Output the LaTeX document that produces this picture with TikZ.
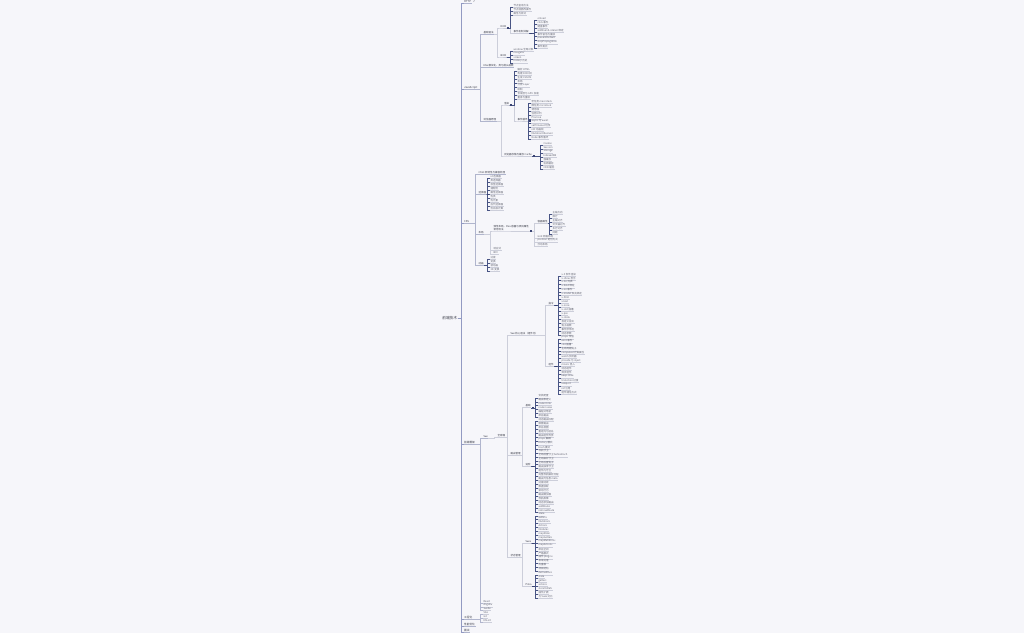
\documentclass[tikz,border=0pt]{standalone}
\usepackage{fontspec}
\setmainfont{Noto Sans CJK SC}
\newfontfamily\symfont{DejaVu Sans}
\usetikzlibrary{calc}

\definecolor{bgcol}{RGB}{246,246,250}
\definecolor{maincol}{RGB}{146,154,194}
\definecolor{subcol}{RGB}{176,181,205}
\definecolor{linkcol}{RGB}{204,206,218}
\definecolor{leafcol}{RGB}{72,84,132}
\definecolor{knobcol}{RGB}{58,68,115}
\definecolor{textcol}{RGB}{100,102,114}
\definecolor{darktext}{RGB}{58,60,72}

\tikzset{
  rootnode/.style={anchor=west, inner sep=0.6pt, text=darktext, font=\fontsize{3.7}{4.2}\selectfont},
  lvlone/.style={anchor=south west, inner xsep=0.4pt, inner ysep=0.5pt, text=darktext, font=\fontsize{2.7}{3.2}\selectfont},
  topic/.style={anchor=south west, inner xsep=0.4pt, inner ysep=0.5pt, text=darktext, font=\fontsize{2.5}{3}\selectfont},
  leaf/.style={topic, text=textcol},
  mainlink/.style={draw=maincol, line width=0.9pt},
  sublink/.style={draw=subcol, line width=0.5pt},
  link/.style={draw=linkcol, line width=0.45pt},
  leaflink/.style={draw=leafcol, line width=0.4pt},
  uline/.style={draw=linkcol, line width=0.4pt},
}

% parent -> child, elbow at child x minus gap
\newcommand\branch[4]{\draw[#1] (#3.south east) -| ([xshift=-#2pt]#4.south west) -- (#4.south west) -- (#4.south east);}
% a column of leaves under one parent
\newcommand\leafs[7][leaflink]{%
  \foreach \lbl [count=\i] in {#7} {%
    \node[leaf] (#3-\i) at (#4,{#5+#6*(\i-1)}) {\lbl};
    \draw[#1] (#2.south east) -| ([xshift=-2.5pt]#3-\i.south west) -- (#3-\i.south west);
    \draw[uline] (#3-\i.south west) -- (#3-\i.south east);
  }%
}
\newcommand\knob[1]{\fill[knobcol] ([xshift=0.3pt,yshift=-0.55pt]#1.south east) rectangle ++(2.2pt,1.1pt);}

\begin{document}
\begin{tikzpicture}[x=1pt,y=-1pt]
  %%%%% START %%%%%
  \fill[bgcol] (0,0) rectangle (1024,633);
  \useasboundingbox (0,0) rectangle (1024,633);

  \node[rootnode] (root) at (441.5,318) {前端技术};

  \foreach \nm/\yy/\lbl in {http/3.5/HTTP, js/89.5/JavaScript, css/223.5/CSS, fw/444.5/前端框架, eng/619.5/工程化, perf/626.5/性能优化, iv/632.3/面试} {
    \node[lvlone] (\nm) at (463.5,\yy) {\lbl};
    \draw[mainlink] (root.east) -| ([xshift=-2.5pt]\nm.south west) -- (\nm.south west);
    \draw[sublink] (\nm.south west) -- (\nm.south east);
  }
  \node[anchor=west, inner sep=0pt, text=darktext, font=\fontsize{2.6}{2.6}\symfont] (httpicon) at ([xshift=1pt]http.east) {↗};

  % JavaScript
  \node[topic] (js1) at (483,34.5) {基础语法};
  \node[topic] (js2) at (483,67.5) {ES6 模块化、类与箭头函数};
  \node[topic] (js3) at (483,121.5) {浏览器原理};
  \foreach \c in {js1,js2,js3} {\branch{sublink}{2.5}{js}{\c}}

  \node[topic] (jsdom) at (500,28) {DOM};
  \node[topic] (jsbom) at (500,57) {BOM};
  \branch{link}{2.5}{js1}{jsdom}
  \branch{link}{2.5}{js1}{jsbom}
  \node[topic] (jsevt) at (513,33.5) {事件机制详解};
  \branch{link}{2.5}{jsdom}{jsevt}
  \leafs{jsdom}{jsdomA}{513}{7}{4}{节点查询方法, 节点增删改操作, 属性与样式}
  \knob{jsdom}
  \leafs{jsevt}{jsevt}{537}{20}{4}{onload, click 事件, 键盘事件, addEventListener 绑定, 事件冒泡与捕获, preventDefault, stopPropagation, 事件委托}
  \knob{jsevt}
  \leafs{jsbom}{jsbom}{513}{51}{4}{window 全局对象, navigator, screen, history 历史}

  \node[topic] (jsrender) at (503.5,105) {渲染};
  \node[topic] (jsstore) at (503.5,156) {浏览器存储与缓存 Cache};
  \branch{link}{2.5}{js3}{jsrender}
  \branch{link}{2.5}{js3}{jsstore}
  \node[topic] (jsloop) at (517,121) {事件循环};
  \branch{link}{2.5}{jsrender}{jsloop}
  \leafs{jsrender}{jsrenderA}{517}{71}{4}{解析 HTML, 构建 DOM 树, 生成 CSSOM, 布局, 分层 Layer, 绘制, 合成层与 GPU 加速, 重排与重绘}
  \knob{jsrender}
  \leafs{jsloop}{jsloop}{531}{103}{4}{宏任务 macrotask, 微任务 microtask, 调用栈, 任务队列, Promise, async 与 await, setTimeout 时序, rAF 动画帧, MutationObserver, Node 事件循环}
  \knob{jsloop}
  \leafs{jsstore}{jsstore}{543}{145}{4}{Cookie, Session, Storage, IndexedDB, 强缓存, 协商缓存, CDN 缓存}
  \knob{jsstore}

  % CSS
  \node[topic] (css1) at (478,174.5) {CSS3 新特性与兼容处理};
  \node[topic] (css2) at (478,194.5) {选择器};
  \node[topic] (css3) at (478,234.5) {布局};
  \node[topic] (css4) at (478,265.5) {动画};
  \foreach \c in {css1,css2,css3,css4} {\branch{sublink}{2.5}{css}{\c}}

  \leafs{css2}{css2}{490}{178}{4}{id 选择器, 类选择器, 标签选择器, 通配符, 属性选择器, 伪类, 伪元素, 后代选择器, 优先级计算}
  \knob{css2}

  \node[topic, align=left] (css3a) at (493,231) {弹性布局，Flex 容器与项目属性\\常用写法};
  \branch{link}{2.5}{css3}{css3a}
  \leafs[link]{css3}{css3B}{493}{250}{4.5}{响应式, BFC}
  \node[topic] (cflex) at (537,223.5) {容器属性};
  \branch{link}{2.5}{css3a}{cflex}
  \leafs[link]{css3a}{css3aB}{537}{238}{4}{Grid 网格布局, position 定位方式, 浮动布局}
  \knob{css3a}
  \leafs{cflex}{cflex}{552}{214}{4}{主轴方向, 换行, 主轴对齐, 交叉轴对齐, 多行对齐, 间距}
  \leafs{css4}{css4}{490}{259}{4}{过渡, 变换, 帧动画, 3D 变换}

  % frameworks
  \node[topic] (fw1) at (483,438) {Vue};
  \branch{sublink}{2.5}{fw}{fw1}
  \leafs[sublink]{fw}{fwB}{483}{603}{3.8}{React, Angular, Svelte}

  \node[topic] (fw1a) at (497,437.5) {全家桶};
  \branch{link}{2.5}{fw1}{fw1a}
  \node[topic] (vcore) at (510,335.5) {Vue 核心语法（组件化）};
  \node[topic] (vrouter) at (510,455) {路由管理};
  \node[topic] (vstate) at (510,557.3) {状态管理};
  \foreach \c in {vcore,vrouter,vstate} {\branch{link}{2.5}{fw1a}{\c}}

  \node[topic] (vdir) at (548,305.5) {指令};
  \node[topic] (vcomp) at (548,366.4) {组件};
  \branch{link}{2.5}{vcore}{vdir}
  \branch{link}{2.5}{vcore}{vcomp}
  \node[topic] (vr1) at (525,407.7) {基础};
  \node[topic] (vr2) at (525,466.6) {进阶};
  \branch{link}{2.5}{vrouter}{vr1}
  \branch{link}{2.5}{vrouter}{vr2}
  \node[topic] (vx) at (525,543.2) {Vuex};
  \node[topic] (vpinia) at (525,586.5) {Pinia};
  \branch{link}{2.5}{vstate}{vx}
  \branch{link}{2.5}{vstate}{vpinia}

  \leafs{vdir}{vdir}{561}{276}{3.93}{v-if 条件渲染, v-show 显示, v-for 列表, v-bind 绑定, v-on 事件, v-model 双向绑定, v-html, v-text, v-once, v-slot 插槽, v-pre, v-cloak, 自定义指令, 钩子函数, 事件修饰符, 动态参数}
  \knob{vdir}
  \leafs{vcomp}{vcomp}{561}{338.9}{3.93}{props 传值, emit 事件, slot 插槽, 生命周期钩子, computed 计算属性, watch 侦听器, provide 与 inject, mixins 混入, 动态组件, 异步组件, keep-alive, transition 过渡, teleport, ref 引用, 组件通信方式}
  \knob{vcomp}
  \leafs{vr1}{vr1}{538}{397.8}{3.93}{安装配置, 路由表定义, router-link, router-view, 编程式导航, 命名路由}
  \knob{vr1}
  \leafs{vr2}{vr2}{538}{421.4}{3.93}{动态路由匹配, 嵌套路由, 命名视图, 重定向与别名, 路由组件传参, props 解耦, History 模式, Hash 模式, 导航守卫, 全局前置守卫 beforeEach, 全局解析守卫, 全局后置钩子, 路由独享守卫, 组件内守卫, 完整导航解析流程, 路由元信息 meta, 过渡动效, 数据获取, 滚动行为, 路由懒加载, 导航故障, 动态添加路由, addRoute, removeRoute}
  \knob{vr2}
  \leafs{vx}{vx}{538}{515.7}{3.93}{State, Getters, Mutations, Actions, Modules, mapState, mapGetters, mapMutations, mapActions, 命名空间, 严格模式, 插件 plugins, 表单处理, 热重载, 项目结构}
  \knob{vx}
  \leafs{vpinia}{vpinia}{538}{574.7}{3.93}{defineStore, state, getters, actions, storeToRefs, 插件扩展, 与 Vuex 对比}
  \knob{vpinia}

  % engineering
  \leafs[sublink]{eng}{engB}{483}{614.5}{4}{Vite, Git, ESLint}
  %%%%% END %%%%%
\end{tikzpicture}
\end{document}
